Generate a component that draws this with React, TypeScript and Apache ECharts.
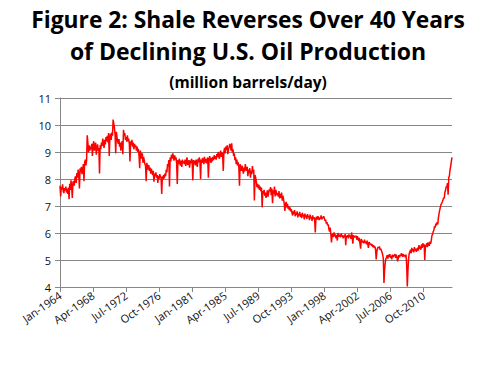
import React, { useEffect, useRef } from "react";
import * as echarts from "echarts";

const titleLine1 = "Figure 2: Shale Reverses Over 40 Years";
const titleLine2 = "of Declining U.S. Oil Production";
const titleLine3 = "(million barrels/day)";

const monthNames = ["Jan", "Feb", "Mar", "Apr", "May", "Jun", "Jul", "Aug", "Sep", "Oct", "Nov", "Dec"];
const startYear = 1964;

const yTicks = [4, 5, 6, 7, 8, 9, 10, 11];

// Monthly U.S. crude oil production, million barrels/day
const prod1964to1973 = [
  7.75, 7.35, 7.70, 7.62, 7.80, 7.55, 7.48, 7.66, 7.58, 7.72, 7.50, 7.64,
  7.45, 7.68, 7.25, 7.82, 7.60, 7.95, 7.70, 7.30, 7.88, 7.92, 7.75, 8.02,
  8.10, 7.85, 8.22, 8.05, 8.35, 8.15, 7.65, 8.40, 8.25, 8.45, 8.18, 8.30,
  8.55, 7.92, 8.60, 8.72, 8.50, 8.68, 9.62, 9.35, 8.98, 9.25, 9.05, 9.20,
  9.10, 9.30, 8.85, 9.25, 9.40, 9.05, 9.20, 9.35, 8.90, 9.15, 9.28, 9.05,
  9.15, 8.20, 9.25, 9.10, 9.35, 9.22, 9.50, 9.30, 9.15, 9.45, 9.28, 9.55,
  9.40, 9.60, 9.35, 9.70, 8.85, 9.55, 9.68, 9.45, 9.72, 9.60, 10.20, 10.05,
  9.90, 9.65, 8.95, 9.75, 9.55, 9.40, 9.30, 9.48, 9.20, 9.35, 9.05, 9.30,
  9.40, 8.92, 9.82, 9.60, 9.70, 9.45, 9.55, 9.38, 9.62, 9.40, 9.50, 9.30,
  8.65, 9.40, 9.25, 9.45, 9.20, 9.35, 9.10, 9.30, 9.18, 9.25, 9.05, 9.20,
];
const prod1974to1983 = [
  9.00, 9.12, 8.85, 8.40, 9.05, 8.90, 8.75, 8.95, 8.60, 8.82, 8.70, 8.55,
  8.50, 7.92, 8.60, 8.45, 8.35, 8.52, 8.30, 8.42, 8.20, 8.38, 8.25, 8.15,
  8.30, 7.90, 8.20, 8.10, 8.25, 8.05, 8.15, 7.85, 8.12, 8.00, 8.18, 8.08,
  8.05, 7.45, 8.10, 7.98, 8.15, 8.02, 8.20, 8.10, 8.35, 8.25, 8.55, 8.48,
  8.70, 7.72, 8.80, 8.65, 8.90, 8.75, 8.95, 8.82, 8.68, 8.88, 8.72, 8.80,
  8.60, 7.82, 8.70, 8.55, 8.75, 8.62, 8.50, 8.68, 8.45, 8.72, 8.58, 8.65,
  8.55, 8.72, 8.48, 8.65, 8.80, 8.52, 8.60, 8.70, 8.42, 8.68, 8.58, 8.75,
  8.62, 7.95, 8.70, 8.55, 8.68, 8.50, 8.72, 8.60, 8.45, 8.75, 8.62, 8.80,
  8.65, 8.00, 8.72, 8.60, 8.78, 8.68, 8.55, 8.82, 8.62, 8.75, 8.58, 8.70,
  8.80, 8.05, 8.68, 8.85, 8.72, 8.60, 8.78, 8.65, 8.82, 8.70, 8.88, 8.75,
];
const prod1984to1993 = [
  8.85, 8.72, 8.92, 8.80, 9.00, 8.88, 8.75, 8.95, 9.05, 8.82, 8.98, 8.90,
  8.30, 9.02, 9.15, 8.95, 9.20, 9.08, 9.25, 8.92, 9.10, 9.18, 9.30, 9.22,
  9.05, 9.32, 8.98, 9.10, 8.85, 8.95, 8.70, 8.80, 8.55, 8.72, 8.50, 8.62,
  8.45, 7.75, 8.55, 8.40, 8.30, 8.50, 8.35, 8.20, 8.42, 8.28, 8.55, 8.38,
  8.30, 8.45, 8.10, 8.35, 8.22, 8.40, 8.05, 8.30, 8.18, 8.48, 8.25, 8.35,
  7.20, 8.15, 8.05, 7.90, 7.70, 7.82, 7.65, 7.78, 7.60, 7.72, 7.55, 7.68,
  6.95, 7.55, 7.45, 7.60, 7.38, 7.50, 7.30, 7.42, 7.58, 7.35, 7.48, 7.62,
  7.55, 7.70, 7.40, 7.65, 7.10, 7.58, 7.45, 7.72, 7.35, 7.60, 7.50, 7.40,
  7.48, 7.35, 7.55, 7.28, 7.45, 7.30, 7.50, 7.20, 7.38, 7.25, 7.10, 6.82,
  7.05, 7.15, 6.95, 7.08, 6.90, 7.00, 6.85, 6.95, 6.80, 6.88, 6.75, 6.65,
];
const prod1994to2003 = [
  6.80, 6.70, 6.85, 6.62, 6.75, 6.68, 6.80, 6.58, 6.72, 6.65, 6.78, 6.60,
  6.70, 6.55, 6.75, 6.62, 6.68, 6.50, 6.72, 6.58, 6.65, 6.52, 6.70, 6.60,
  6.62, 6.48, 6.68, 6.55, 6.60, 6.45, 6.65, 6.52, 6.58, 6.50, 6.02, 6.55,
  6.60, 6.50, 6.62, 6.55, 6.48, 6.58, 6.52, 6.65, 6.50, 6.60, 6.55, 6.62,
  6.55, 6.45, 6.50, 6.35, 6.40, 6.28, 6.32, 6.15, 6.05, 6.20, 5.95, 5.65,
  5.90, 5.98, 5.85, 6.02, 5.88, 5.95, 5.80, 5.92, 5.72, 6.00, 5.86, 5.94,
  5.95, 5.85, 5.98, 5.88, 5.92, 5.80, 5.90, 5.84, 5.96, 5.55, 5.90, 5.86,
  5.92, 5.80, 5.95, 5.85, 5.90, 5.78, 6.02, 5.86, 5.60, 5.92, 5.84, 5.88,
  5.85, 5.90, 5.75, 5.88, 5.80, 5.70, 5.82, 5.60, 5.42, 5.78, 5.72, 5.65,
  5.70, 5.62, 5.75, 5.65, 5.68, 5.58, 5.72, 5.60, 5.45, 5.66, 5.62, 5.58,
];
const prod2004to2014 = [
  5.60, 5.52, 5.58, 5.48, 5.55, 5.45, 5.50, 5.40, 5.02, 5.30, 5.42, 5.48,
  5.45, 5.50, 5.38, 5.42, 5.35, 5.28, 5.20, 5.05, 4.15, 4.65, 4.90, 5.05,
  5.10, 5.18, 5.05, 5.20, 5.12, 5.22, 5.08, 5.15, 5.02, 5.20, 5.10, 5.18,
  5.15, 5.22, 5.08, 5.20, 5.12, 4.95, 5.05, 5.18, 5.10, 5.20, 5.15, 5.25,
  5.20, 5.12, 5.22, 5.15, 5.18, 5.10, 5.20, 4.85, 4.02, 4.60, 5.05, 5.25,
  5.30, 5.38, 5.25, 5.45, 5.32, 5.40, 5.28, 5.48, 5.35, 5.42, 5.30, 5.38,
  5.45, 5.35, 5.55, 5.42, 5.50, 5.38, 5.58, 5.45, 5.62, 5.50, 5.58, 5.00,
  5.55, 5.50, 5.62, 5.48, 5.65, 5.58, 5.52, 5.68, 5.60, 5.72, 5.90, 5.95,
  6.05, 6.10, 6.25, 6.20, 6.35, 6.28, 6.40, 6.32, 6.55, 6.72, 6.85, 6.95,
  7.05, 7.10, 7.15, 7.22, 7.30, 7.28, 7.50, 7.58, 7.72, 7.70, 7.85, 7.42,
  8.05, 8.12, 8.35, 8.48, 8.65, 8.80,
];

const production = [
  ...prod1964to1973,
  ...prod1974to1983,
  ...prod1984to1993,
  ...prod1994to2003,
  ...prod2004to2014,
];

const categories = production.map((_, i) => {
  const y = startYear + Math.floor(i / 12);
  return `${monthNames[i % 12]}-${y}`;
});

const gridColor = "#878787";
const titleFont = "'Open Sans', sans-serif";
const labelFont = "'Open Sans', sans-serif";

const titleText = (text: string, y: number, size: number) => ({
  type: "text",
  x: 248,
  y,
  style: {
    text,
    fill: "#000",
    font: `bold ${size}px ${titleFont}`,
    textAlign: "center",
    textVerticalAlign: "middle",
    align: "center",
    verticalAlign: "middle",
  },
});

export default function App() {
  const ref = useRef<HTMLDivElement>(null);

  useEffect(() => {
    if (!ref.current) return;
    const chart = echarts.init(ref.current, null, { renderer: "svg" });
    chart.setOption({
      animation: false,
      backgroundColor: "#ffffff",
      graphic: [
        titleText(titleLine1, 19, 22.8),
        titleText(titleLine2, 51, 23),
        titleText(titleLine3, 82, 15.5),
      ],
      grid: { left: 60, right: 43, top: 98, bottom: 87, containLabel: false },
      xAxis: {
        type: "category",
        data: categories,
        boundaryGap: false,
        axisLine: { show: true, lineStyle: { color: gridColor, width: 1 } },
        axisTick: { show: true, interval: 50, length: 5, lineStyle: { color: gridColor } },
        axisLabel: {
          interval: 50,
          rotate: 35,
          margin: 7,
          color: "#111",
          fontSize: 11,
          fontFamily: labelFont,
        },
        splitLine: { show: false },
      },
      yAxis: {
        type: "value",
        min: yTicks[0],
        max: yTicks[yTicks.length - 1],
        interval: 1,
        axisLine: { show: true, lineStyle: { color: gridColor, width: 1 } },
        axisTick: { show: true, length: 5, lineStyle: { color: gridColor } },
        axisLabel: { margin: 9, color: "#111", fontSize: 11, fontFamily: labelFont },
        splitLine: { show: true, lineStyle: { color: gridColor, width: 1 } },
      },
      series: [
        {
          type: "line",
          data: production,
          symbol: "none",
          lineStyle: { color: "#ff0000", width: 1.5 },
          itemStyle: { color: "#ff0000" },
        },
      ],
    });
    return () => chart.dispose();
  }, []);

  return (
    <div
      ref={ref}
      style={{ position: "fixed", left: 0, top: 0, width: 495, height: 374 }}
    />
  );
}
